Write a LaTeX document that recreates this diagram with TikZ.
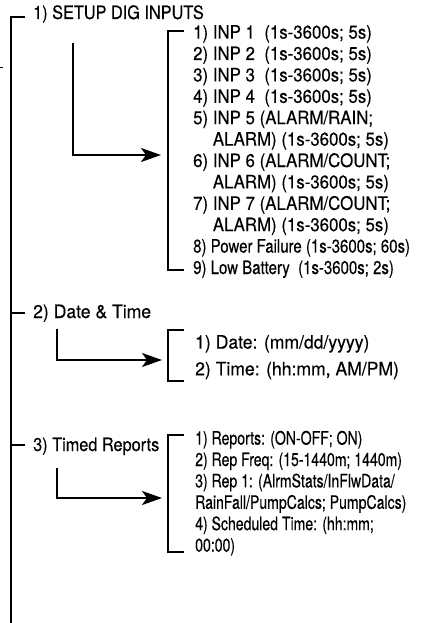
\documentclass[tikz,border=0pt]{standalone}
\usepackage{fontspec}
\setmainfont[FakeBold=0.3]{TeX Gyre Heros}
\newcommand{\sq}[2]{\scalebox{#1}[1]{#2}}
\usetikzlibrary{arrows.meta}
\begin{document}
\begin{tikzpicture}[x=1pt,y=-1pt,
  ln/.style={line width=2.2pt,line join=miter},
  arr/.style={line width=2.2pt,line join=miter,-{Stealth[length=20pt,width=14pt,inset=5pt]}},
  txt/.style={anchor=base west,inner sep=0pt,font=\fontsize{18.5}{21}\selectfont}]
\useasboundingbox (0,0) rectangle (428,623);

% main spine
\coordinate (top) at (11,17);
\coordinate (bot) at (11,623);
\coordinate (t1) at (25,17);
\coordinate (s2) at (11,313);
\coordinate (t2) at (25,313);
\coordinate (s3) at (11,445);
\coordinate (t3) at (25,445);
\draw[ln] (t1) -- (top) -- (bot);
\draw[ln] (s2) -- (t2);
\draw[ln] (s3) -- (t3);
\coordinate (m1) at (0,68);
\coordinate (m2) at (3,68);
\draw[line width=1pt] (m1) -- (m2);

% headings
\node[txt] (h1) at (33,19) {\sq{0.88}{1) SETUP DIG INPUTS}};
\node[txt] (h2) at (33,318) {\sq{0.95}{2) Date \& Time}};
\node[txt] (h3) at (33,451) {\sq{0.88}{3) Timed Reports}};

% arrows
\coordinate (a1s) at (73,43);
\coordinate (a1e) at (161,155);
\draw[arr] (a1s) |- (a1e);
\coordinate (a2s) at (57,329);
\coordinate (a2e) at (162,360);
\draw[arr] (a2s) |- (a2e);
\coordinate (a3s) at (57,468);
\coordinate (a3e) at (162,498);
\draw[arr] (a3s) |- (a3e);

% brackets
\coordinate (b1a) at (184,31);
\coordinate (b1b) at (168,31);
\coordinate (b1c) at (168,270);
\coordinate (b1d) at (184,270);
\draw[ln] (b1a) -- (b1b) -- (b1c) -- (b1d);
\coordinate (b2a) at (184,330);
\coordinate (b2b) at (168,330);
\coordinate (b2c) at (168,381);
\coordinate (b2d) at (184,381);
\draw[ln] (b2a) -- (b2b) -- (b2c) -- (b2d);
\coordinate (b3a) at (184,435);
\coordinate (b3b) at (168,435);
\coordinate (b3c) at (168,552);
\coordinate (b3d) at (184,552);
\draw[ln] (b3a) -- (b3b) -- (b3c) -- (b3d);

% list 1
\node[txt] (i1) at (193,38.6) {\sq{0.91}{1) INP 1~ (1s-3600s; 5s)}};
\node[txt] (i2) at (193,60) {\sq{0.91}{2) INP 2~ (1s-3600s; 5s)}};
\node[txt] (i3) at (193,81.4) {\sq{0.91}{3) INP 3~ (1s-3600s; 5s)}};
\node[txt] (i4) at (193,102.8) {\sq{0.91}{4) INP 4~ (1s-3600s; 5s)}};
\node[txt] (i5) at (193,124.2) {\sq{0.91}{5) INP 5 (ALARM/RAIN;}};
\node[txt] (i5b) at (193,145.6) {\sq{0.91}{\hphantom{5) }ALARM) (1s-3600s; 5s)}};
\node[txt] (i6) at (193,167) {\sq{0.91}{6) INP 6 (ALARM/COUNT;}};
\node[txt] (i6b) at (193,188.4) {\sq{0.91}{\hphantom{6) }ALARM) (1s-3600s; 5s)}};
\node[txt] (i7) at (193,209.8) {\sq{0.91}{7) INP 7 (ALARM/COUNT;}};
\node[txt] (i7b) at (193,231.2) {\sq{0.91}{\hphantom{7) }ALARM) (1s-3600s; 5s)}};
\node[txt] (i8) at (193,252.6) {\sq{0.81}{8) Power Failure (1s-3600s; 60s)}};
\node[txt] (i9) at (193,274) {\sq{0.81}{9) Low Battery~ (1s-3600s; 2s)}};

% list 2
\node[txt] (d1) at (195,348.6) {\sq{0.95}{1) Date: (mm/dd/yyyy)}};
\node[txt] (d2) at (195,375.3) {\sq{0.95}{2) Time: (hh:mm, AM/PM)}};

% list 3
\node[txt] (r1) at (195,444.6) {\sq{0.76}{1) Reports: (ON-OFF; ON)}};
\node[txt] (r2) at (195,466) {\sq{0.76}{2) Rep Freq: (15-1440m; 1440m)}};
\node[txt] (r3) at (195,487.4) {\sq{0.76}{3) Rep 1: (AlrmStats/InFlwData/}};
\node[txt] (r3b) at (195,508.8) {\sq{0.76}{RainFall/PumpCalcs; PumpCalcs)}};
\node[txt] (r4) at (195,530.2) {\sq{0.76}{4) Scheduled Time: (hh:mm;}};
\node[txt] (r4b) at (195,551.6) {\sq{0.76}{00:00)}};
\end{tikzpicture}
\end{document}
